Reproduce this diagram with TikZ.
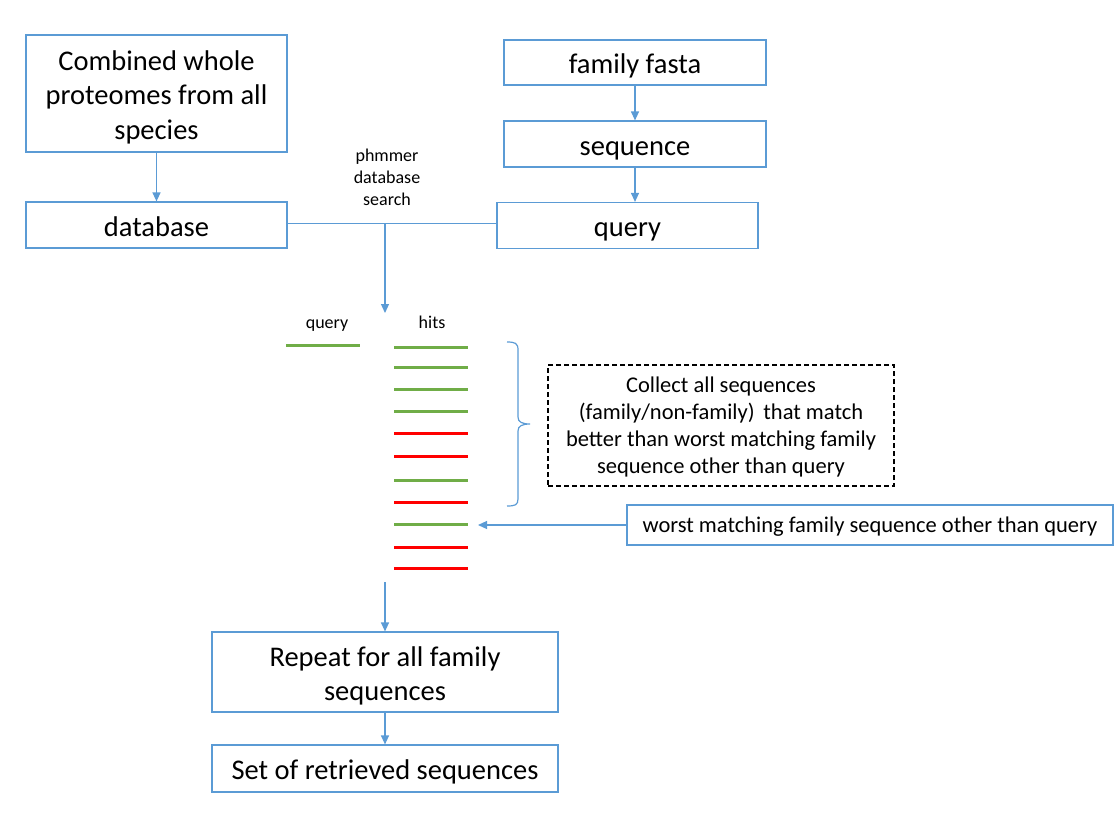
\documentclass[tikz,border=0pt]{standalone}
\usepackage{fontspec}
\setmainfont{Carlito}
\usetikzlibrary{arrows.meta}
\definecolor{obl}{HTML}{5B9BD5}
\definecolor{ogr}{HTML}{70AD47}
\definecolor{ord}{HTML}{FF0000}
\tikzset{
  frame/.style={draw=obl, line width=1.2pt, inner sep=0pt},
  box/.style={frame, align=center, text height=23pt, text depth=1pt, font=\fontsize{28.5}{34.5}\selectfont},
  mtxt/.style={inner sep=0pt, align=center, font=\fontsize{28.5}{34.5}\selectfont},
  medbox/.style={frame, align=center, text height=17pt, text depth=3pt, font=\fontsize{22.5}{27}\selectfont},
  dbox/.style={draw=black, dash pattern=on 5pt off 3pt, line width=1.1pt, inner sep=0pt},
  dtxt/.style={inner sep=0pt, align=center, font=\fontsize{22.5}{27}\selectfont},
  lbl/.style={inner sep=0pt, align=center, font=\fontsize{18}{22}\selectfont},
  slbl/.style={lbl, text height=13pt, text depth=4pt},
  conn/.style={draw=obl, line width=1.2pt},
  arr/.style={conn, -{Triangle[width=8pt,length=9pt]}},
  hitline/.style={line width=3pt},
}
\begin{document}
\begin{tikzpicture}[x=1pt,y=-1pt]
\useasboundingbox (0,0) rectangle (1118,836);
% top boxes
\node[frame, minimum width=261pt, minimum height=117pt] (A) at (156.5,93.5) {};
\node[mtxt] (At) at ([yshift=-3.5pt]A.center) {Combined whole\\proteomes from all\\species};
\node[box, minimum width=261pt, minimum height=46pt] (db) at (156.5,225) {database};
\node[box, minimum width=262pt, minimum height=45pt] (ff) at (635,62.5) {family fasta};
\node[box, minimum width=262pt, minimum height=46pt] (seq) at (635,144) {sequence};
\node[box, minimum width=261pt, minimum height=46pt] (q) at (627.5,225.5) {query};
\draw[arr] (A.south) -- (db.north);
\draw[arr] (ff.south) -- (seq.north);
\draw[arr] (seq.south) -- (seq.south |- q.north);
% search
\node[lbl] (ph) at (387,177) {phmmer\\database\\search};
\coordinate (j) at (385,223.5);
\draw[conn] (db.east |- j) -- (q.west |- j);
\coordinate (hit) at (385,313);
\draw[arr] (j) -- (hit);
% labels
\node[slbl] (ql) at (327,324) {query};
\node[slbl] (hl) at (432,323.5) {hits};
% query line
\coordinate (q1) at (286,345);
\coordinate (q2) at (360,345);
\draw[hitline, ogr] (q1) -- (q2);
% hit lines
\foreach \yy/\cc in {347/ogr,367/ogr,389/ogr,411.5/ogr,433.5/ord,456/ord,480/ogr,502/ord,524.5/ogr,547.5/ord,568/ord}{
  \draw[hitline, \cc] (394,\yy) -- (468,\yy);
}
% brace
\draw[conn] (507,342) .. controls (515,342) and (518,343) .. (518,350) -- (518,417)
  .. controls (518,422) and (522,424) .. (530,424)
  .. controls (522,424) and (518,426) .. (518,431) -- (518,499)
  .. controls (518,505) and (515,506) .. (507,506);
% dashed box
\node[dbox, minimum width=346pt, minimum height=121pt] (col) at (721,425.5) {};
\node[dtxt] (colt) at ([yshift=-1.5pt]col.center) {Collect all sequences\\(family/non-family)\, that match\\better than worst matching family\\sequence other than query};
% worst box
\node[medbox, minimum width=486pt, minimum height=40pt] (w) at (870,525) {worst matching family sequence other than query};
\coordinate (wt) at (478,525);
\draw[arr] (w.west) -- (wt);
% bottom
\node[frame, minimum width=346pt, minimum height=80pt] (rep) at (385,672) {};
\node[mtxt] (rept) at ([yshift=-4pt]rep.center) {Repeat for all family\\sequences};
\node[box, minimum width=346pt, minimum height=47pt] (set) at (385,768.5) {Set of retrieved sequences};
\coordinate (hb) at (385,582);
\draw[arr] (hb) -- (rep.north);
\draw[arr] (rep.south) -- (set.north);
\end{tikzpicture}
\end{document}
